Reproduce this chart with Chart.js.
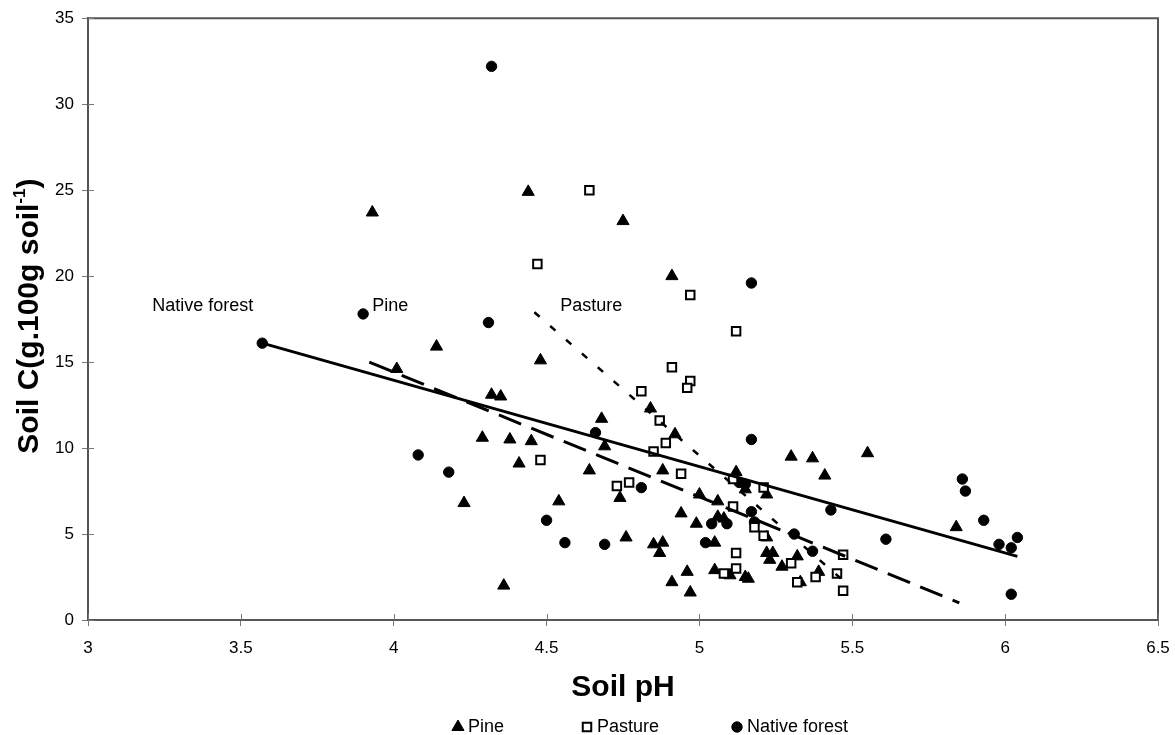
<!DOCTYPE html>
<html>
<head>
<meta charset="utf-8">
<title>Soil C vs Soil pH</title>
<script src="https://cdn.jsdelivr.net/npm/chart.js@4.4.0/dist/chart.umd.min.js"></script>
<style>
  html, body { margin: 0; padding: 0; background: #fff; }
  #chart { display: block; }
</style>
</head>
<body>
<canvas id="chart" width="1175" height="735"></canvas>
<script>
// axis ticks
const xTicks = [3, 3.5, 4, 4.5, 5, 5.5, 6, 6.5];
const yTicks = [0, 5, 10, 15, 20, 25, 30, 35];

// Pine (triangles)
const pinePH = [3.93, 4.44, 4.75, 4.91, 4.01, 4.14, 4.48, 4.32, 4.35, 4.84,
                4.68, 4.69, 4.92, 4.29, 4.38, 4.45, 4.41, 4.64, 4.74, 4.88,
                4.23, 4.54, 4.76, 4.85, 4.88, 4.87, 4.36, 4.91, 5.30, 5.37,
                5.55, 5.41, 5.12, 5.15, 5.22, 5.00, 5.06, 4.94, 4.99, 5.06,
                5.08, 5.22, 5.22, 5.24, 5.23, 5.27, 5.32, 5.39, 5.33, 5.05,
                4.96, 4.97, 5.05, 5.10, 5.15, 5.16, 5.84];
const pineC = [23.7, 24.9, 23.2, 20.0, 14.6, 15.9, 15.1, 13.1, 13.0, 12.3,
               11.7, 10.1, 10.8, 10.6, 10.5, 10.4, 9.1, 8.7, 7.1, 8.7,
               6.8, 6.9, 4.8, 4.4, 4.5, 3.9, 2.0, 2.2, 9.5, 9.4,
               9.7, 8.4, 8.6, 7.6, 7.3, 7.3, 6.9, 6.2, 5.6, 6.0,
               5.9, 4.8, 3.9, 3.9, 3.5, 3.1, 3.7, 2.8, 2.2, 4.5,
               2.8, 1.6, 2.9, 2.6, 2.5, 2.4, 5.4];

// Pasture (open squares)
const pasturePH = [4.64, 4.47, 4.97, 5.12, 4.91, 4.97, 4.96, 4.81, 4.87, 4.89,
                   4.85, 4.48, 4.94, 4.73, 4.77, 5.11, 5.21, 5.11, 5.18, 5.21,
                   5.12, 5.08, 5.12, 5.30, 5.32, 5.38, 5.45, 5.47, 5.47];
const pastureC = [25.0, 20.7, 18.9, 16.8, 14.7, 13.9, 13.5, 13.3, 11.6, 10.3,
                  9.8, 9.3, 8.5, 7.8, 8.0, 8.2, 7.7, 6.6, 5.4, 4.9,
                  3.9, 2.7, 3.0, 3.3, 2.2, 2.5, 2.7, 3.8, 1.7];

// Native forest (filled circles)
const forestPH = [4.32, 3.90, 4.31, 3.57, 5.17, 4.66, 5.17, 4.08, 4.18, 4.81,
                  5.13, 5.15, 4.50, 4.56, 4.69, 5.02, 5.04, 5.09, 5.17, 5.18,
                  5.31, 5.37, 5.43, 5.61, 5.86, 5.87, 5.93, 5.98, 6.02, 6.04, 6.02];
const forestC = [32.2, 17.8, 17.3, 16.1, 19.6, 10.9, 10.5, 9.6, 8.6, 7.7,
                 8.0, 7.9, 5.8, 4.5, 4.4, 4.5, 5.6, 5.6, 6.3, 5.7,
                 5.0, 4.0, 6.4, 4.7, 8.2, 7.5, 5.8, 4.4, 4.2, 4.8, 1.5];

// regression lines (end points)
const forestFitPH = [3.57, 6.04];
const forestFitC = [16.1, 3.7];
const pineFitPH = [3.92, 5.85];
const pineFitC = [15.0, 1.0];
const pastureFitPH = [4.46, 5.47];
const pastureFitC = [17.9, 2.3];

const seriesNames = ['Pine', 'Pasture', 'Native forest'];
const fitNames = ['Native forest', 'Pine', 'Pasture'];

const FONT = "'Liberation Sans', Arial, sans-serif";

const toPoints = (xs, ys) => xs.map((x, i) => ({ x: x, y: ys[i] }));

// where the line names sit (data units)
const fitLabelAt = [
  { x: 3.21, y: 18.25 },
  { x: 3.93, y: 18.25 },
  { x: 4.545, y: 18.25 }
];

// legend item starts (px)
const legendX = [453, 582, 732];
const legendY = 727;

const markerStyles = [
  { pointStyle: 'triangle', radius: 7, borderWidth: 1, fill: '#000', stroke: '#000' },
  { pointStyle: 'rect', radius: 6, borderWidth: 2, fill: '#fff', stroke: '#000' },
  { pointStyle: 'circle', radius: 5.2, borderWidth: 1, fill: '#000', stroke: '#000' }
];

function drawMarker(ctx, m, x, y) {
  ctx.save();
  ctx.fillStyle = m.fill;
  ctx.strokeStyle = m.stroke;
  ctx.lineWidth = m.borderWidth;
  Chart.helpers.drawPoint(ctx, { pointStyle: m.pointStyle, radius: m.radius, borderWidth: m.borderWidth, rotation: 0 }, x, y);
  ctx.restore();
}

// box, inner half of ticks
const frame = {
  id: 'frame',
  beforeDatasetsDraw(chart) {
    const { ctx, chartArea: a, scales: { x, y } } = chart;
    ctx.save();
    ctx.strokeStyle = '#555';
    ctx.lineWidth = 2;
    ctx.beginPath();
    ctx.moveTo(a.left, a.top);
    ctx.lineTo(a.right, a.top);
    ctx.lineTo(a.right, a.bottom);
    ctx.stroke();

    ctx.strokeStyle = '#777';
    ctx.lineWidth = 1;
    ctx.beginPath();
    xTicks.forEach(v => {
      const px = Math.round(x.getPixelForValue(v)) + 0.5;
      ctx.moveTo(px, a.bottom);
      ctx.lineTo(px, a.bottom - 6);
    });
    yTicks.forEach(v => {
      const py = Math.round(y.getPixelForValue(v)) + 0.5;
      ctx.moveTo(a.left, py);
      ctx.lineTo(a.left + 6, py);
    });
    ctx.stroke();
    ctx.restore();
  }
};

// y title with superscript, line names, legend
const extras = {
  id: 'extras',
  afterDraw(chart) {
    const { ctx, chartArea: a, scales: { x, y } } = chart;

    // y axis title
    ctx.save();
    ctx.translate(30, (a.top + a.bottom) / 2 - 3);
    ctx.rotate(-Math.PI / 2);
    ctx.fillStyle = '#000';
    ctx.textBaseline = 'middle';
    const bigFont = 'bold 30px ' + FONT;
    const supFont = 'bold 17px ' + FONT;
    const t1 = 'Soil C(g.100g soil', t2 = '-1', t3 = ')';
    ctx.font = bigFont;
    const w1 = ctx.measureText(t1).width, w3 = ctx.measureText(t3).width;
    ctx.font = supFont;
    const w2 = ctx.measureText(t2).width;
    let cx = -(w1 + w2 + w3) / 2;
    ctx.textAlign = 'left';
    ctx.font = bigFont;
    ctx.fillText(t1, cx, 0);
    ctx.font = supFont;
    ctx.fillText(t2, cx + w1, -10);
    ctx.font = bigFont;
    ctx.fillText(t3, cx + w1 + w2, 0);
    ctx.restore();

    // names next to the regression lines
    ctx.save();
    ctx.font = '18px ' + FONT;
    ctx.fillStyle = '#000';
    ctx.textAlign = 'left';
    ctx.textBaseline = 'middle';
    fitNames.forEach((name, i) => {
      ctx.fillText(name, x.getPixelForValue(fitLabelAt[i].x), y.getPixelForValue(fitLabelAt[i].y));
    });
    ctx.restore();

    // legend
    ctx.save();
    ctx.font = '18px ' + FONT;
    ctx.fillStyle = '#000';
    ctx.textAlign = 'left';
    ctx.textBaseline = 'middle';
    seriesNames.forEach((name, i) => {
      drawMarker(ctx, markerStyles[i], legendX[i] + 5, legendY);
      ctx.fillStyle = '#000';
      ctx.fillText(name, legendX[i] + 15, legendY);
    });
    ctx.restore();
  }
};

const ctx = document.getElementById('chart').getContext('2d');
const myChart = new Chart(ctx, {
  type: 'scatter',
  data: {
    datasets: [
      {
        label: 'Native forest fit',
        data: toPoints(forestFitPH, forestFitC),
        showLine: true,
        borderColor: '#000',
        borderWidth: 3,
        pointRadius: 0,
        order: 0
      },
      {
        label: 'Pine fit',
        data: toPoints(pineFitPH, pineFitC),
        showLine: true,
        borderColor: '#000',
        borderWidth: 3,
        borderDash: [24, 11],
        pointRadius: 0,
        order: 0
      },
      {
        label: 'Pasture fit',
        data: toPoints(pastureFitPH, pastureFitC),
        showLine: true,
        borderColor: '#000',
        borderWidth: 2.5,
        borderDash: [7, 14],
        pointRadius: 0,
        order: 0
      },
      {
        label: seriesNames[1],
        data: toPoints(pasturePH, pastureC),
        pointStyle: 'rect',
        pointRadius: markerStyles[1].radius,
        pointBorderWidth: markerStyles[1].borderWidth,
        pointBackgroundColor: '#fff',
        pointBorderColor: '#000',
        order: 1
      },
      {
        label: seriesNames[0],
        data: toPoints(pinePH, pineC),
        pointStyle: 'triangle',
        pointRadius: markerStyles[0].radius,
        pointBorderWidth: markerStyles[0].borderWidth,
        pointBackgroundColor: '#000',
        pointBorderColor: '#000',
        order: 2
      },
      {
        label: seriesNames[2],
        data: toPoints(forestPH, forestC),
        pointStyle: 'circle',
        pointRadius: markerStyles[2].radius,
        pointBorderWidth: markerStyles[2].borderWidth,
        pointBackgroundColor: '#000',
        pointBorderColor: '#000',
        order: 3
      }
    ]
  },
  options: {
    responsive: false,
    animation: false,
    devicePixelRatio: 1,
    layout: { padding: { left: 0, right: 17, top: 16, bottom: 29 } },
    plugins: {
      legend: { display: false },
      tooltip: { enabled: false }
    },
    scales: {
      x: {
        type: 'linear',
        min: 3,
        max: 6.5,
        afterBuildTicks: s => { s.ticks = xTicks.map(v => ({ value: v })); },
        afterFit: s => { s.height = 86; s.paddingLeft = 0; s.paddingRight = 0; },
        ticks: {
          font: { family: FONT, size: 17 },
          color: '#000',
          padding: 12,
          maxRotation: 0,
          callback: v => String(v)
        },
        grid: { drawOnChartArea: false, tickLength: 6, color: '#777', lineWidth: 1 },
        border: { color: '#555', width: 2 },
        title: {
          display: true,
          text: 'Soil pH',
          color: '#000',
          font: { family: FONT, size: 30, weight: 'bold' },
          padding: { top: 0, bottom: 0 }
        }
      },
      y: {
        type: 'linear',
        min: 0,
        max: 35,
        afterBuildTicks: s => { s.ticks = yTicks.map(v => ({ value: v })); },
        afterFit: s => { s.width = 88; },
        ticks: {
          font: { family: FONT, size: 17 },
          color: '#000',
          padding: 8,
          callback: v => String(v)
        },
        grid: { drawOnChartArea: false, tickLength: 6, color: '#777', lineWidth: 1 },
        border: { color: '#555', width: 2 }
      }
    }
  },
  plugins: [frame, extras]
});
</script>
</body>
</html>
